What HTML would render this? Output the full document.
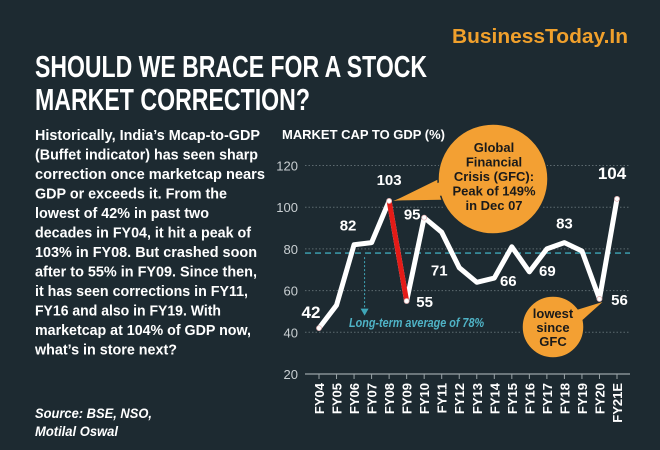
<!DOCTYPE html>
<html><head><meta charset="utf-8"><style>
html,body{margin:0;padding:0;background:#1d2a31;}
svg{display:block;font-family:"Liberation Sans",Arial,sans-serif;}
</style></head><body>
<svg id="chart" width="660" height="450" viewBox="0 0 660 450">
<rect width="660" height="450" fill="#1d2a31"/>
<text x="628" y="43" text-anchor="end" font-size="20" font-weight="bold" fill="#f0a02c" textLength="176" lengthAdjust="spacingAndGlyphs">BusinessToday.In</text>
<g font-size="31" font-weight="bold" fill="#fff">
<text x="35" y="77" textLength="392" lengthAdjust="spacingAndGlyphs">SHOULD WE BRACE FOR A STOCK</text>
<text x="35" y="110" textLength="275" lengthAdjust="spacingAndGlyphs">MARKET CORRECTION?</text>
</g>
<g font-size="15" font-weight="bold" fill="#fff">
<text x="35" y="140" textLength="225" lengthAdjust="spacingAndGlyphs">Historically, India’s Mcap-to-GDP</text>
<text x="35" y="159.5" textLength="223" lengthAdjust="spacingAndGlyphs">(Buffet indicator) has seen sharp</text>
<text x="35" y="179" textLength="230" lengthAdjust="spacingAndGlyphs">correction once marketcap nears</text>
<text x="35" y="198.5" textLength="192" lengthAdjust="spacingAndGlyphs">GDP or exceeds it. From the</text>
<text x="35" y="218" textLength="174" lengthAdjust="spacingAndGlyphs">lowest of 42% in past two</text>
<text x="35" y="237.5" textLength="216" lengthAdjust="spacingAndGlyphs">decades in FY04, it hit a peak of</text>
<text x="35" y="257" textLength="222" lengthAdjust="spacingAndGlyphs">103% in FY08. But crashed soon</text>
<text x="35" y="276.5" textLength="222" lengthAdjust="spacingAndGlyphs">after to 55% in FY09. Since then,</text>
<text x="35" y="296" textLength="213" lengthAdjust="spacingAndGlyphs">it has seen corrections in FY11,</text>
<text x="35" y="315.5" textLength="186" lengthAdjust="spacingAndGlyphs">FY16 and also in FY19. With</text>
<text x="35" y="335" textLength="216" lengthAdjust="spacingAndGlyphs">marketcap at 104% of GDP now,</text>
<text x="35" y="354.5" textLength="142" lengthAdjust="spacingAndGlyphs">what’s in store next?</text>
</g>
<g font-size="14" font-weight="bold" font-style="italic" fill="#fff">
<text x="35" y="418" textLength="117" lengthAdjust="spacingAndGlyphs">Source: BSE, NSO,</text>
<text x="35" y="436" textLength="83" lengthAdjust="spacingAndGlyphs">Motilal Oswal</text>
</g>
<text x="282" y="139" font-size="13" font-weight="bold" fill="#fff" textLength="163" lengthAdjust="spacingAndGlyphs">MARKET CAP TO GDP (%)</text>
<g id="grid"></g><g id="yticks"></g><g id="xticks"></g><g id="avg"></g><g id="series"></g><g id="labels"></g><g id="callouts"></g>
</svg>
<script>
const categories=["FY04","FY05","FY06","FY07","FY08","FY09","FY10","FY11","FY12","FY13","FY14","FY15","FY16","FY17","FY18","FY19","FY20","FY21E"];
const values=[42,53,82,83,103,55,95,88,71,64,66,81,69,80,83,79,56,104];
const yTicks=[20,40,60,80,100,120];
const avgValue=78;
const avgLabel="Long-term average of 78%";
const labeled=[{i:0,t:"42",dx:-8,dy:-10,s:17},{i:2,t:"82",dx:-6,dy:-14,s:15},{i:4,t:"103",dx:0,dy:-16,s:15},{i:5,t:"55",dx:18,dy:6,s:15},{i:6,t:"95",dx:-12,dy:2,s:15},{i:8,t:"71",dx:-20,dy:8,s:15},{i:10,t:"66",dx:14,dy:8,s:15},{i:12,t:"69",dx:18,dy:4,s:15},{i:14,t:"83",dx:0,dy:-14,s:15},{i:16,t:"56",dx:20,dy:6,s:15},{i:17,t:"104",dx:-5,dy:-20,s:17}];
const NS="http://www.w3.org/2000/svg";
const x0=319,dxStep=(617-319)/(categories.length-1);
const X=i=>x0+i*dxStep;
const Y=v=>374-(v-20)*2.085;
function mk(tag,attrs,parent,txt){const e=document.createElementNS(NS,tag);for(const k in attrs)e.setAttribute(k,attrs[k]);if(txt!=null)e.textContent=txt;parent.appendChild(e);return e;}
const grid=document.getElementById('grid'),yt=document.getElementById('yticks'),xt=document.getElementById('xticks');
yTicks.forEach(v=>{
 const l=mk('line',{x1:305,x2:630,y1:Y(v),y2:Y(v),stroke:v===20?'#9aa4a8':'#5d6a70','stroke-width':v===20?1.2:1,'stroke-dasharray':v===20?'':'1.5 2'},grid);
 
 
 const t=mk('text',{x:298,y:Y(v)+5,'text-anchor':'end','font-size':13,fill:'#c9cfd2'},yt,v);
 
 
});
categories.forEach((c,i)=>{
 const tk=mk('line',{x1:X(i),x2:X(i),y1:374,y2:379,stroke:'#9aa4a8'},xt);
 
 
 const t=mk('text',{x:0,y:0,transform:`translate(${X(i)+5},383) rotate(-90)`,'text-anchor':'end','font-size':13,'font-weight':'bold',fill:'#fff'},xt,c);
 
 
});
const avg=document.getElementById('avg');
const al=mk('line',{x1:305,x2:630,y1:Y(avgValue),y2:Y(avgValue),stroke:'#3fa6b8','stroke-width':1.3,'stroke-dasharray':'6 4'},avg);


const ar=mk('line',{x1:X(3)-7,x2:X(3)-7,y1:Y(avgValue)+4,y2:Y(48)-6,stroke:'#3fa6b8','stroke-width':1,'stroke-dasharray':'2 2'},avg);


const ah=mk('path',{d:`M${X(3)-11},${Y(48)-7} L${X(3)-3},${Y(48)-7} L${X(3)-7},${Y(48)} Z`,fill:'#3fa6b8'},avg);


const at=mk('text',{x:X(2)-5,y:Y(44)+3,'font-size':13,'font-weight':'bold','font-style':'italic',fill:'#4fb3c6',textLength:135,lengthAdjust:'spacingAndGlyphs'},avg,avgLabel);


const ser=document.getElementById('series');
const pts=values.map((v,i)=>X(i)+','+Y(v)).join(' ');
const pl=mk('polyline',{points:pts,fill:'none',stroke:'#fff','stroke-width':5,'stroke-linejoin':'round','stroke-linecap':'round'},ser);


const red=mk('line',{x1:X(4),y1:Y(values[4]),x2:X(5),y2:Y(values[5]),stroke:'#e41b17','stroke-width':5,'stroke-linecap':'round'},ser);


[0,4,5,6,16,17].forEach(i=>{
 const c=mk('circle',{cx:X(i),cy:Y(values[i]),r:2.5,fill:'#fff',stroke:'#e4b5b5','stroke-width':0.8},ser);
 
 
});
const lab=document.getElementById('labels');
labeled.forEach(o=>{
 const t=mk('text',{x:X(o.i)+o.dx,y:Y(values[o.i])+o.dy,'text-anchor':'middle','font-size':o.s,'font-weight':'bold',fill:'#fff'},lab,o.t);
 
 
});
const co=document.getElementById('callouts');
const g1=mk('g',{},co);


mk('path',{d:`M${X(4)+4},${Y(values[4])} L452,172 L460,200 Z`,fill:'#f3a033',stroke:'#1d2a31','stroke-width':1},g1);
mk('circle',{cx:493,cy:179,r:55,fill:'#f3a033',stroke:'#1d2a31','stroke-width':1.5},g1);
mk('path',{d:`M${X(4)+4},${Y(values[4])} L450,178 L456,194 Z`,fill:'#f3a033'},g1);
["Global","Financial","Crisis (GFC):","Peak of 149%","in Dec 07"].forEach((s,k)=>mk('text',{x:494,y:152+k*14.5,'text-anchor':'middle','font-size':13,'font-weight':'bold',fill:'#1a1a1a'},g1,s));
const g2=mk('g',{},co);


mk('circle',{cx:553,cy:327,r:31,fill:'#f3a033',stroke:'#1d2a31','stroke-width':1.5},g2);
mk('path',{d:`M${X(16)+3},${Y(values[16])+3} L570,312 L578,324 Z`,fill:'#f3a033'},g2);
["lowest","since","GFC"].forEach((s,k)=>mk('text',{x:553,y:318+k*14,'text-anchor':'middle','font-size':13,'font-weight':'bold',fill:'#1a1a1a'},g2,s));
</script>
</body></html>
